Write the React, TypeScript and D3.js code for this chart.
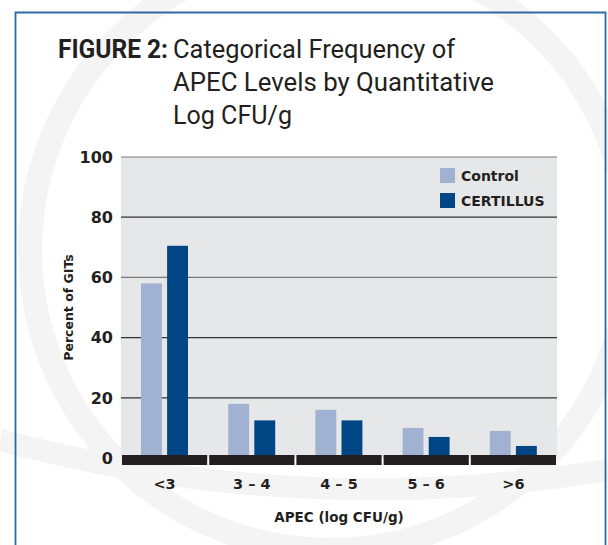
import { useMemo } from "react";
import * as d3 from "d3";

const W = 608;
const H = 545;

const categories = ["<3", "3 – 4", "4 – 5", "5 – 6", ">6"];
const seriesNames = ["Control", "CERTILLUS"];
const controlValues = [58, 18, 16, 10, 9];
const certillusValues = [70.5, 12.5, 12.5, 7, 4];
const yTicks = [0, 20, 40, 60, 80, 100];

const titleLines = ["Categorical Frequency of", "APEC Levels by Quantitative", "Log CFU/g"];
// measured widths of the condensed title lines in the reference
const titleWidths = [282, 321, 119];

const COLORS: Record<string, string> = {
  Control: "#a1b1d1",
  CERTILLUS: "#004685",
};

const PLOT = { left: 121, right: 557, top: 157, bottom: 458 };
const SANS = "'DejaVu Sans', 'Liberation Sans', Arial, sans-serif";
const TITLE = "Roboto, 'Liberation Sans', Arial, sans-serif";

const App = () => {
  const x0 = useMemo(
    () => d3.scaleBand<string>().domain(categories).range([PLOT.left, PLOT.right]).padding(0),
    []
  );
  const x1 = useMemo(
    () => d3.scaleBand<string>().domain(seriesNames).range([20, 67]).paddingInner(0.2),
    []
  );
  const y = useMemo(
    () => d3.scaleLinear().domain([0, 100]).range([PLOT.bottom, PLOT.top]),
    []
  );

  const rows = categories.map((c, i) => ({
    cat: c,
    values: [
      { name: "Control", value: controlValues[i] },
      { name: "CERTILLUS", value: certillusValues[i] },
    ],
  }));

  return (
    <svg
      width={W}
      height={H}
      style={{ position: "absolute", left: 0, top: 0, background: "#ffffff" }}
    >
      {/* faint watermark swooshes */}
      <g fill="none" stroke="#f4f4f4">
        <circle cx={330} cy={250} r={300} strokeWidth={24} />
        <path d="M0,440 Q300,520 608,470" strokeWidth={22} />
      </g>

      {/* frame */}
      <path
        d={`M15.5,${H} L15.5,12.5 L605.5,12.5 L605.5,${H}`}
        fill="none"
        stroke="#2f68a6"
        strokeWidth={1.8}
      />

      {/* title */}
      <g fontSize={25} fill="#231f20" fontFamily={TITLE}>
        <text x={58} y={58} fontWeight="bold" textLength={110} lengthAdjust="spacingAndGlyphs">
          FIGURE 2:
        </text>
        {titleLines.map((t, i) => (
          <text
            key={t}
            x={173}
            y={58 + i * 33}
            textLength={titleWidths[i]}
            lengthAdjust="spacingAndGlyphs"
          >
            {t}
          </text>
        ))}
      </g>

      {/* plot background */}
      <rect
        x={PLOT.left}
        y={PLOT.top}
        width={PLOT.right - PLOT.left}
        height={PLOT.bottom - PLOT.top}
        fill="#e6e7e8"
      />

      {/* gridlines */}
      {yTicks.filter((t) => t > 0).map((t) => (
        <line
          key={t}
          x1={PLOT.left}
          x2={PLOT.right}
          y1={y(t)}
          y2={y(t)}
          stroke={t === 100 || t === 60 ? "#7a7a7a" : "#333"}
          strokeWidth={1.2}
        />
      ))}

      {/* y tick labels */}
      <g fontFamily={SANS} fontWeight="bold" fontSize={16} fill="#231f20" textAnchor="end">
        {yTicks.map((t) => (
          <text key={t} x={113} y={y(t)} dy="0.36em">{t}</text>
        ))}
      </g>

      {/* bars */}
      {rows.map((r) => (
        <g key={r.cat} transform={`translate(${x0(r.cat)},0)`}>
          {r.values.map((v) => (
            <rect
              key={v.name}
              x={x1(v.name)}
              y={y(v.value)}
              width={x1.bandwidth()}
              height={y(0) - y(v.value)}
              fill={COLORS[v.name]}
            />
          ))}
        </g>
      ))}

      {/* segmented baseline */}
      {categories.map((c) => (
        <rect
          key={c}
          x={(x0(c) as number) + 1}
          y={y(0) - 3}
          width={x0.bandwidth() - 2}
          height={10}
          fill="#231f20"
        />
      ))}

      {/* x labels */}
      <g fontFamily={SANS} fontWeight="bold" fill="#231f20" textAnchor="middle">
        {categories.map((c) => (
          <text key={c} x={(x0(c) as number) + x0.bandwidth() / 2} y={489} fontSize={14.5}>
            {c}
          </text>
        ))}
        <text x={339} y={522} fontSize={13.5}>APEC (log CFU/g)</text>
      </g>

      {/* y title */}
      <text
        transform={`translate(73,${(PLOT.top + PLOT.bottom) / 2}) rotate(-90)`}
        textAnchor="middle"
        fontFamily={SANS}
        fontWeight="bold"
        fontSize={12.5}
        fill="#231f20"
      >
        Percent of GITs
      </text>

      {/* legend */}
      <g fontFamily={SANS} fontWeight="bold" fontSize={14} fill="#231f20">
        {seriesNames.map((s, i) => (
          <g key={s} transform={`translate(440,${168 + i * 25})`}>
            <rect width={15} height={15} fill={COLORS[s]} />
            <text x={21} y={13}>{s}</text>
          </g>
        ))}
      </g>
    </svg>
  );
};

export default App;
